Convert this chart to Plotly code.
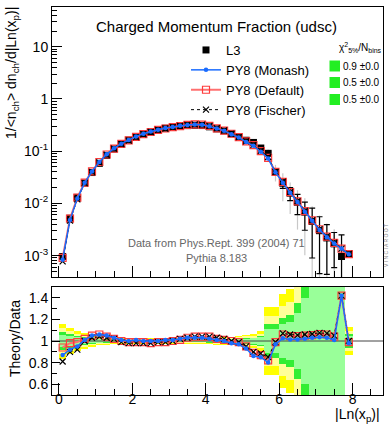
import plotly.graph_objects as go

# ---- bin centres of |Ln(x_p)| ----
x_centres = [0.1, 0.3, 0.5, 0.7, 0.9, 1.1, 1.3, 1.5, 1.7, 1.9,
             2.1, 2.3, 2.5, 2.7, 2.9, 3.1, 3.3, 3.5, 3.7, 3.9,
             4.1, 4.3, 4.5, 4.7, 4.9, 5.1, 5.3, 5.5, 5.7, 5.9,
             6.1, 6.3, 6.5, 6.7, 6.9, 7.1, 7.3, 7.5, 7.7, 7.9]
bin_width = 0.2

# ---- L3 measurement ----
l3_values = [9.6e-4, 5.2e-3, 1.30e-2, 2.45e-2, 3.9e-2, 5.85e-2, 8.3e-2, 0.110, 0.138, 0.163,
             0.190, 0.215, 0.238, 0.258, 0.275, 0.289, 0.300, 0.309, 0.314, 0.310,
             0.293, 0.268, 0.245, 0.216, 0.188, 0.162, 0.147, 0.115, 0.091, 0.0405,
             0.0243, 0.0157, 0.0105, 0.0068, 0.0045, 0.0030, 0.00218, 0.00168, 0.00096, 0.00108]
# relative uncertainties (statistical, total)
l3_stat_rel = [0.04, 0.03, 0.02, 0.015, 0.012, 0.01, 0.008, 0.007, 0.007, 0.007,
               0.007, 0.007, 0.007, 0.007, 0.007, 0.007, 0.007, 0.007, 0.007, 0.007,
               0.008, 0.008, 0.009, 0.01, 0.012, 0.014, 0.018, 0.03, 0.06, 0.12,
               0.20, 0.28, 0.42, 0.55, 0.80, 0.85, 0.80, 0.65, 1.60, 0.05]
l3_tot_rel = [0.06, 0.045, 0.035, 0.026, 0.019, 0.015, 0.012, 0.011, 0.010, 0.010,
              0.010, 0.010, 0.010, 0.010, 0.010, 0.010, 0.010, 0.010, 0.010, 0.010,
              0.011, 0.012, 0.013, 0.015, 0.017, 0.020, 0.026, 0.06, 0.18, 0.35,
              0.55, 0.60, 0.70, 0.85, 0.95, 0.95, 0.90, 0.90, 1.60, 0.10]
# relative uncertainty shown as bands in the ratio panel
band_rel = [0.060, 0.045, 0.033, 0.026, 0.020, 0.015, 0.012, 0.011, 0.010, 0.010,
            0.010, 0.010, 0.010, 0.010, 0.010, 0.010, 0.010, 0.010, 0.010, 0.010,
            0.011, 0.012, 0.013, 0.015, 0.017, 0.022, 0.024, 0.033, 0.115, 0.115,
            0.16, 0.18, 0.26, 0.40, 0.70, 0.80, 0.80, 0.70, 0.90, 0.048]

# ---- Pythia 8.183 tunes, as ratio to data ----
monash_ratio = [0.87, 0.92, 0.95, 1.01, 1.05, 1.06, 1.05, 1.03, 1.01, 1.00,
                1.01, 1.00, 1.00, 1.00, 1.01, 1.01, 1.02, 1.03, 1.03, 1.03,
                1.02, 1.01, 1.00, 0.98, 0.97, 0.93, 0.86, 0.85, 0.80, 0.97,
                1.025, 1.015, 1.015, 1.02, 1.03, 1.035, 1.03, 1.01, 1.42, 0.98]
default_ratio = [0.94, 0.98, 0.99, 1.02, 1.05, 1.06, 1.04, 1.02, 1.00, 0.99,
                 0.99, 0.99, 0.98, 0.99, 0.99, 1.00, 1.01, 1.03, 1.04, 1.04,
                 1.04, 1.02, 1.01, 1.00, 0.99, 0.95, 0.89, 0.87, 0.82, 0.99,
                 1.06, 1.045, 1.045, 1.05, 1.055, 1.065, 1.06, 1.04, 1.42, 0.99]
fischer_ratio = [0.81, 0.90, 0.92, 1.00, 1.03, 1.04, 1.03, 1.02, 0.99, 0.98,
                 0.98, 0.98, 0.98, 0.99, 0.99, 1.00, 1.02, 1.03, 1.04, 1.04,
                 1.04, 1.03, 1.02, 1.00, 0.99, 0.95, 0.90, 0.885, 0.85, 0.99,
                 1.07, 1.06, 1.055, 1.06, 1.065, 1.075, 1.07, 1.05, 1.42, 1.00]

tune_names = ["PY8 (Monash)", "PY8 (Default)", "PY8 (Fischer)"]
chi2_values = [0.9, 0.5, 0.5]
chi2_errors = [0.0, 0.0, 0.0]

# ---- styling ----
W, H = 389, 424
FONT = "Liberation Sans, Arial, Helvetica, sans-serif"
BLUE = "#1a6cff"
RED = "#ff3b3b"
RED_LINE = "#ff7070"
YELLOW, PALE_YELLOW = "#ffff00", "#ffff99"
GREEN, PALE_GREEN = "#33ee33", "#99ff99"

X_RANGE = [-0.19, 8.83]


def px_x(p):
    return p / W


def px_y(p):
    return 1 - p / H


monash = [d * r for d, r in zip(l3_values, monash_ratio)]
default = [d * r for d, r in zip(l3_values, default_ratio)]
fischer = [d * r for d, r in zip(l3_values, fischer_ratio)]

stat_hi = [v * e for v, e in zip(l3_values, l3_stat_rel)]
stat_lo = [min(v * e, v * 0.999) for v, e in zip(l3_values, l3_stat_rel)]
tot_hi = [v * e for v, e in zip(l3_values, l3_tot_rel)]
tot_lo = [min(v * e, v * 0.999) for v, e in zip(l3_values, l3_tot_rel)]

fig = go.Figure()

# ---------------- main panel ----------------
fig.add_trace(go.Scatter(
    x=x_centres, y=l3_values, mode="markers", xaxis="x", yaxis="y",
    marker=dict(symbol="square", size=0.1, color="rgba(0,0,0,0)"),
    error_y=dict(type="data", array=tot_hi, arrayminus=tot_lo, color="#c8c8c8",
                 thickness=1.2, width=0),
    showlegend=False, hoverinfo="skip"))
fig.add_trace(go.Scatter(
    x=x_centres, y=l3_values, mode="markers", name="L3", xaxis="x", yaxis="y",
    marker=dict(symbol="square", size=7, color="black"),
    error_y=dict(type="data", array=stat_hi, arrayminus=stat_lo, color="black",
                 thickness=1.2, width=3),
    legendrank=1))
fig.add_trace(go.Scatter(
    x=x_centres, y=default, mode="lines+markers", name=tune_names[1],
    xaxis="x", yaxis="y",
    line=dict(color=RED_LINE, width=2),
    marker=dict(symbol="square-open", size=7, color=RED, line=dict(width=1.2, color=RED)),
    legendrank=3))
fig.add_trace(go.Scatter(
    x=x_centres, y=fischer, mode="lines+markers", name=tune_names[2],
    xaxis="x", yaxis="y",
    line=dict(color="black", width=1, dash="dot"),
    marker=dict(symbol="x-thin", size=6, color="black", line=dict(width=1.2, color="black")),
    legendrank=4))
fig.add_trace(go.Scatter(
    x=x_centres, y=monash, mode="lines+markers", name=tune_names[0],
    xaxis="x", yaxis="y",
    line=dict(color=BLUE, width=1.5),
    marker=dict(symbol="circle", size=4.5, color=BLUE),
    legendrank=2))

# ---------------- ratio panel ----------------
for mult, col in [(2.7, YELLOW), (2.0, PALE_YELLOW), (1.35, GREEN), (1.0, PALE_GREEN)]:
    fig.add_trace(go.Bar(
        x=x_centres, y=[2 * mult * s for s in band_rel],
        base=[1 - mult * s for s in band_rel], width=bin_width,
        marker=dict(color=col, line=dict(width=0)),
        xaxis="x2", yaxis="y2", showlegend=False, hoverinfo="skip"))

fig.add_trace(go.Scatter(
    x=X_RANGE, y=[1, 1], mode="lines", xaxis="x2", yaxis="y2",
    line=dict(color="#444444", width=1), showlegend=False, hoverinfo="skip"))
fig.add_trace(go.Scatter(
    x=x_centres, y=default_ratio, mode="lines+markers", xaxis="x2", yaxis="y2",
    line=dict(color=RED_LINE, width=2),
    marker=dict(symbol="square-open", size=7, color=RED, line=dict(width=1.2, color=RED)),
    showlegend=False))
fig.add_trace(go.Scatter(
    x=x_centres, y=fischer_ratio, mode="lines+markers", xaxis="x2", yaxis="y2",
    line=dict(color="black", width=1, dash="dot"),
    marker=dict(symbol="x-thin", size=6, color="black", line=dict(width=1.2, color="black")),
    showlegend=False))
fig.add_trace(go.Scatter(
    x=x_centres, y=monash_ratio, mode="lines+markers", xaxis="x2", yaxis="y2",
    line=dict(color=BLUE, width=1.5),
    marker=dict(symbol="circle", size=4.5, color=BLUE),
    showlegend=False))

# ---------------- axes ----------------
minor_log = [m * 10.0 ** k for k in range(-4, 2) for m in range(2, 10)]
x_dom = [px_x(52), px_x(383)]
axis_common = dict(showline=True, linecolor="black", linewidth=1, mirror=True,
                   showgrid=False, zeroline=False, ticks="inside", tickcolor="black",
                   tickfont=dict(family=FONT, size=14, color="black"))

fig.update_layout(
    width=W, height=H, margin=dict(l=0, r=0, t=0, b=0),
    paper_bgcolor="white", plot_bgcolor="white",
    barmode="overlay", bargap=0,
    font=dict(family=FONT, color="black"),
    xaxis=dict(domain=x_dom, range=X_RANGE, anchor="y", showticklabels=False,
               tickvals=[0, 2, 4, 6, 8], ticklen=11,
               minor=dict(dtick=0.5, tick0=0, ticklen=6, ticks="inside", tickcolor="black"),
               **{k: v for k, v in axis_common.items() if k != "tickfont"}),
    yaxis=dict(domain=[px_y(277), px_y(7)], type="log", range=[-3.41, 1.762], anchor="x",
               tickvals=[1e-3, 1e-2, 1e-1, 1, 10],
               ticktext=["10<sup>-3</sup>", "10<sup>-2</sup>", "10<sup>-1</sup>", "1", "10"],
               ticklen=10,
               minor=dict(tickvals=minor_log, ticklen=5, ticks="inside", tickcolor="black"),
               **axis_common),
    xaxis2=dict(domain=x_dom, range=X_RANGE, anchor="y2",
                tickvals=[0, 2, 4, 6, 8], ticklen=12, ticklabelstandoff=-9,
                minor=dict(dtick=0.5, tick0=0, ticklen=6, ticks="inside", tickcolor="black"),
                **axis_common),
    yaxis2=dict(domain=[px_y(395), px_y(287)], range=[0.5, 1.5], anchor="x2",
                tickvals=[0.6, 0.8, 1.0, 1.2, 1.4], ticktext=["0.6", "0.8", "1", "1.2", "1.4"],
                ticklen=8,
                minor=dict(dtick=0.1, tick0=0.5, ticklen=5, ticks="inside", tickcolor="black"),
                **axis_common),
    legend=dict(x=px_x(186), y=px_y(35), xanchor="left", yanchor="top",
                bgcolor="rgba(0,0,0,0)", borderwidth=0,
                font=dict(family=FONT, size=13, color="black"),
                itemwidth=30, tracegroupgap=0),
)

# ---------------- texts ----------------
annotations = [
    dict(text="Charged Momentum Fraction (udsc)", x=px_x(216), y=px_y(26),
         font=dict(size=15)),
    dict(text="1/&lt;n<sub>ch</sub>&gt; dn<sub>ch</sub>/d|Ln(x<sub>p</sub>)|",
         x=px_x(12), y=px_y(5), textangle=-90, xanchor="center", yanchor="top",
         font=dict(size=14)),
    dict(text="Theory/Data", x=px_x(15), y=px_y(339), textangle=-90,
         font=dict(size=14)),
    dict(text="|Ln(x<sub>p</sub>)|", x=px_x(382), y=px_y(415), xanchor="right",
         font=dict(size=14)),
    dict(text="Data from Phys.Rept. 399 (2004) 71", x=px_x(216), y=px_y(243),
         font=dict(size=11, color="#666666")),
    dict(text="Pythia 8.183", x=px_x(216), y=px_y(258),
         font=dict(size=11, color="#666666")),
    dict(text="V I N C I A R O O T", x=px_x(386), y=px_y(246), textangle=-90,
         font=dict(size=5, color="#888888")),
    dict(text="χ<sup>2</sup><sub>5%</sub>/N<sub>bins</sub>", x=px_x(360), y=px_y(48),
         font=dict(size=10)),
]
row_centres = [66, 82.5, 99.5]
shapes = []
for yc, val, err in zip(row_centres, chi2_values, chi2_errors):
    shapes.append(dict(type="rect", xref="paper", yref="paper",
                       x0=px_x(329.5), x1=px_x(340), y0=px_y(yc + 5.5), y1=px_y(yc - 5.5),
                       fillcolor="#22ee22", line=dict(width=0)))
    annotations.append(dict(text=f"{val:.1f} ±{err:.1f}", x=px_x(340.5), y=px_y(yc),
                            xanchor="left", font=dict(size=10)))

for a in annotations:
    a.setdefault("xref", "paper")
    a.setdefault("yref", "paper")
    a.setdefault("showarrow", False)
    a.setdefault("xanchor", "center")
    a.setdefault("yanchor", "middle")
    a["font"] = dict(family=FONT, color=a["font"].get("color", "black"), size=a["font"]["size"])

fig.update_layout(annotations=annotations, shapes=shapes)

fig.write_html("out.html")
